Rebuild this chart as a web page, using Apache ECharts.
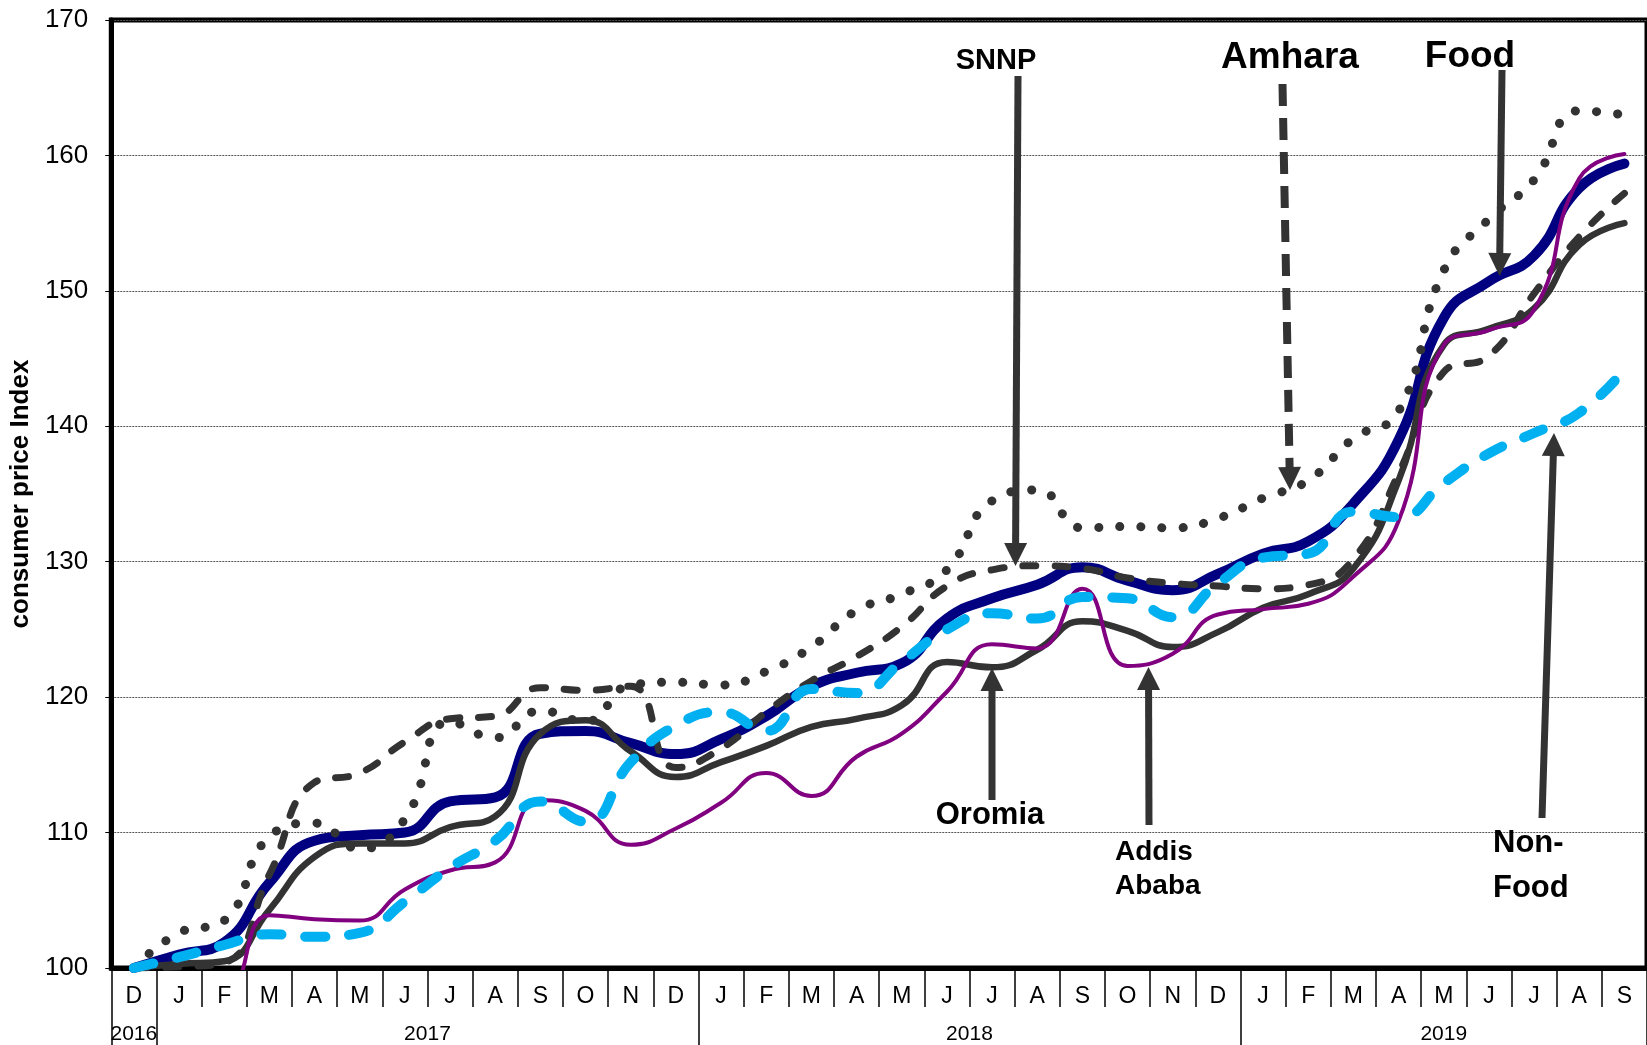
<!DOCTYPE html>
<html><head><meta charset="utf-8">
<script src="https://cdn.jsdelivr.net/npm/echarts@6/dist/echarts.min.js"></script>
<style>html,body{margin:0;padding:0;background:#fff}#c{width:1647px;height:1045px}</style>
</head><body><div id="c"></div>
<script>
// ---- data ----
const months = ['D','J','F','M','A','M','J','J','A','S','O','N','D','J','F','M','A','M','J','J','A','S','O','N','D','J','F','M','A','M','J','J','A','S'];
const years = ['2016','2017','2018','2019'];
const yearSpans = [1, 12, 12, 9];
const yTicks = [100, 110, 120, 130, 140, 150, 160, 170];

const food    = [100.0,101.0,101.9,106.3,109.4,109.8,110.0,112.3,112.6,117.3,117.5,116.6,115.8,116.9,118.6,120.8,121.8,122.5,125.8,127.3,128.3,129.6,128.6,127.9,129.1,130.6,131.5,134.3,139.0,148.0,150.7,152.6,157.6,159.4];
const oromia  = [100.0,100.3,100.5,104.3,108.2,109.2,109.2,110.4,111.2,117.3,118.3,116.0,114.1,115.2,116.4,117.8,118.4,119.4,122.6,122.2,123.5,125.6,124.9,123.7,124.8,126.6,127.6,129.5,136.0,146.0,147.2,148.7,153.4,155.0];
const amhara  = [100.0,100.1,100.4,106.9,113.7,114.4,116.7,118.4,118.6,120.7,120.5,120.8,114.8,116.2,118.9,121.2,123.0,125.2,128.2,129.4,129.7,129.5,128.8,128.4,128.2,128.0,128.3,130.2,136.5,144.0,145.2,149.8,154.0,157.2];
const snnp    = [100.0,102.6,103.5,109.7,110.7,108.8,111.0,118.2,117.0,119.0,118.2,120.9,121.1,120.9,121.9,123.7,126.4,127.6,129.4,134.5,135.3,132.5,132.6,132.5,133.2,134.7,136.0,139.1,141.1,151.5,155.3,158.2,163.3,163.0];
const addis   = [100.0,99.0,98.3,103.9,103.6,103.5,105.8,107.2,107.8,112.4,111.6,109.1,110.3,112.2,114.4,112.7,115.6,117.3,120.4,123.9,123.6,128.0,122.3,123.2,126.1,126.5,126.9,128.9,133.0,146.0,147.1,148.6,158.3,160.1];
const nonFood = [100.0,100.8,101.7,102.5,102.3,102.6,104.9,107.4,109.4,112.3,110.8,115.2,117.9,118.9,117.5,120.6,120.3,122.6,125.0,126.2,125.8,127.4,127.3,125.9,128.4,130.3,130.6,133.7,133.3,135.8,138.0,139.5,141.0,144.2];

// ---- derived axis helpers ----
const yearBounds = [0];
yearSpans.forEach(s => yearBounds.push(yearBounds[yearBounds.length - 1] + s));
const yearCenters = yearSpans.map((s, i) => yearBounds[i] + s / 2);

const FONT = 'Liberation Sans, Arial, sans-serif';
const INK = '#333333';

function arrow(x1, y1, x2, y2, opts) {
  opts = opts || {};
  const hl = 23, hw = 11.5;
  const dx = x2 - x1, dy = y2 - y1, L = Math.sqrt(dx*dx + dy*dy);
  const ux = dx / L, uy = dy / L, px = -uy, py = ux;
  const bx = x2 - ux * hl, by = y2 - uy * hl;
  return [
    { type: 'line', z: 100, shape: { x1: x1, y1: y1, x2: bx + ux * 2, y2: by + uy * 2 },
      style: { stroke: INK, lineWidth: opts.width || 7, lineDash: opts.dash || null } },
    { type: 'polygon', z: 100, shape: { points: [[bx + px*hw, by + py*hw], [bx - px*hw, by - py*hw], [x2, y2]] },
      style: { fill: INK } }
  ];
}
function label(text, x, y, size, align, lh) {
  return { type: 'text', z: 101, x: x, y: y,
    style: { text: text, fill: '#000', font: 'bold ' + size + 'px ' + FONT,
      textAlign: align || 'center', textVerticalAlign: 'middle', lineHeight: lh || size } };
}

const chart = echarts.init(document.getElementById('c'), null, { renderer: 'canvas' });

function lineSeries(name, data, color, width, dash) {
  return {
    name: name, type: 'line', data: data, xAxisIndex: 0, yAxisIndex: 0,
    smooth: 0.5, symbol: 'none', animation: false, silent: true,
    lineStyle: { color: color, width: width, type: dash || 'solid', cap: 'round', join: 'round' }
  };
}

const option = {
  animation: false,
  backgroundColor: '#ffffff',
  grid: { left: 111, top: 20, width: 1540, bottom: 77, show: true, borderColor: '#000', borderWidth: 5, backgroundColor: 'transparent' },
  xAxis: [
    {
      type: 'category', data: months, boundaryGap: true, position: 'bottom',
      axisLine: { show: true, onZero: false, lineStyle: { color: '#000', width: 5 } },
      axisTick: { show: true, interval: 0, length: 39, lineStyle: { color: '#000', width: 1.5 } },
      axisLabel: { interval: 0, margin: 17, fontSize: 23, color: '#000', fontFamily: FONT },
      splitLine: { show: false }
    },
    {
      type: 'value', min: 0, max: months.length, position: 'bottom',
      axisLine: { show: false },
      axisTick: { show: true, customValues: yearBounds, length: 80, lineStyle: { color: '#000', width: 1.5 } },
      axisLabel: { customValues: yearCenters, margin: 56, fontSize: 21, color: '#000', fontFamily: FONT,
        formatter: function (v) { const i = yearCenters.findIndex(c => Math.abs(c - v) < 1e-6); return i >= 0 ? years[i] : ''; } },
      splitLine: { show: false }
    }
  ],
  yAxis: {
    type: 'value', min: yTicks[0], max: yTicks[yTicks.length - 1], interval: 10,
    name: 'consumer price Index', nameLocation: 'middle', nameGap: 74,
    nameTextStyle: { fontSize: 26, fontWeight: 'bold', color: '#000', fontFamily: FONT },
    axisLine: { show: true, lineStyle: { color: '#000', width: 5 } },
    axisTick: { show: true, length: 6, lineStyle: { color: '#000', width: 1 } },
    axisLabel: { margin: 23, fontSize: 26, color: '#000', fontFamily: FONT },
    splitLine: { show: true, lineStyle: { color: '#555', width: 1, type: [2, 1] } }
  },
  series: [
    lineSeries('Food', food, '#000080', 10),
    lineSeries('Oromia', oromia, INK, 6.5),
    lineSeries('Amhara', amhara, INK, 7, [13, 19]),
    lineSeries('SNNP', snnp, INK, 9, [0.1, 21]),
    lineSeries('Addis Ababa', addis, '#800080', 4),
    lineSeries('Non-Food', nonFood, '#00B0F0', 10, [20, 24])
  ],
  graphic: [].concat(
    arrow(1018, 76, 1015.5, 566),
    arrow(1282.5, 84, 1290, 490, { dash: [22, 12], width: 8 }),
    arrow(1502, 70, 1499.5, 276),
    arrow(992, 800, 992, 668),
    arrow(1149, 825, 1148.5, 667),
    arrow(1542, 818, 1554, 433),
    [
      label('SNNP', 996, 60.5, 29),
      label('Amhara', 1290, 58, 37),
      label('Food', 1470, 57, 37),
      label('Oromia', 990, 815.5, 31),
      label('Addis\nAbaba', 1115, 869.5, 28, 'left', 34),
      label('Non-\nFood', 1493, 865.5, 31, 'left', 45)
    ]
  )
};
chart.setOption(option);
</script>
</body></html>
